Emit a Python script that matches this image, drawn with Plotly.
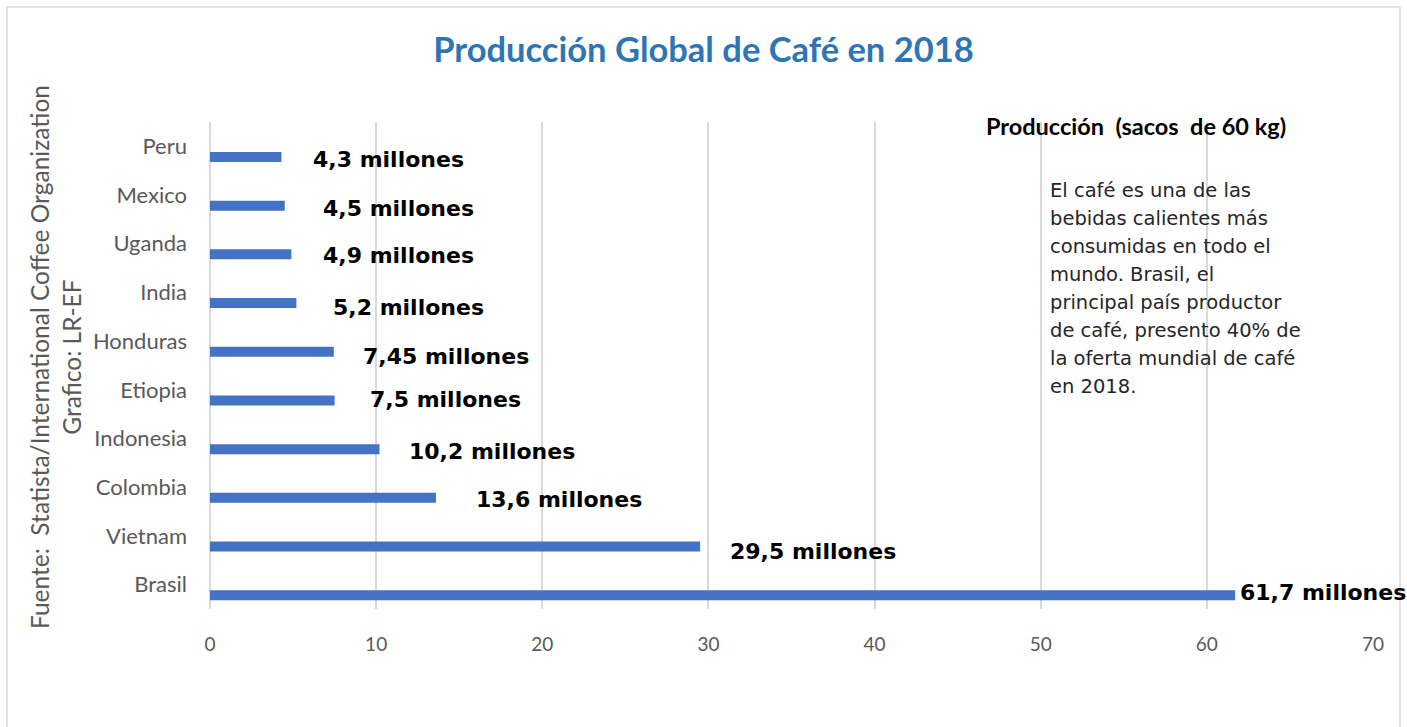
import plotly.graph_objects as go

# Data (bottom-to-top order, as in the chart)
countries = ["Brasil", "Vietnam", "Colombia", "Indonesia", "Etiopia",
             "Honduras", "India", "Uganda", "Mexico", "Peru"]
production = [61.7, 29.5, 13.6, 10.2, 7.5, 7.45, 5.2, 4.9, 4.5, 4.3]
value_labels = ["61,7 millones", "29,5 millones", "13,6 millones", "10,2 millones",
                "7,5 millones", "7,45 millones", "5,2 millones", "4,9 millones",
                "4,5 millones", "4,3 millones"]
x_ticks = [0, 10, 20, 30, 40, 50, 60, 70]

title_text = "Producción Global de Café en 2018"
legend_text = "Producción  (sacos  de 60 kg)"
note_lines = ["El café es una de las", "bebidas calientes más", "consumidas en todo el",
              "mundo. Brasil, el", "principal país productor", "de café, presento 40% de",
              "la oferta mundial de café", "en 2018."]
source_lines = ["Fuente:  Statista/International Coffee Organization", "Grafico: LR-EF"]

# Style: manual label placement (pixel shifts, as dragged in the original)
label_xshift = [3, 28, 38, 28, 33, 27, 35, 30, 36, 30]
label_yshift = [-8, -16, -12, -13, -10, -15, -15, -12, -13, -13]

W, H = 1407, 727
# plot area in page pixels: x 210..1373, y 122..609
ml, mt = 210, 122
mr = W - 1373
mb = H - 609
pw = W - ml - mr
ph = H - mt - mb


def px_x(page_px):
    return (page_px - ml) / pw


def px_y(page_py):
    return (H - mb - page_py) / ph


fig = go.Figure()
fig.add_trace(go.Bar(
    y=countries, x=production, orientation="h",
    marker=dict(color="#4472C4", line=dict(width=0)),
    offset=-0.32, width=0.205, hoverinfo="x+y",
))

for c, v, t, xs, ys in zip(countries, production, value_labels, label_xshift, label_yshift):
    fig.add_annotation(x=v, y=c, text=t, showarrow=False, xanchor="left", yanchor="middle",
                       xshift=xs, yshift=ys,
                       font=dict(family="DejaVu Sans", size=22, color="#000000", weight="bold"))

fig.add_annotation(xref="paper", yref="paper", x=px_x(984), y=px_y(126),
                   xanchor="left", yanchor="middle", showarrow=False, text=legend_text,
                   font=dict(family="Lato", size=23.5, color="#000000", weight="bold"))

for i, line in enumerate(note_lines):
    fig.add_annotation(xref="paper", yref="paper", x=px_x(1048), y=px_y(190 + 28 * i),
                       xanchor="left", yanchor="middle", align="left", showarrow=False,
                       text=line,
                       font=dict(family="DejaVu Sans", size=19.5, color="#262626"))

fig.add_annotation(xref="paper", yref="paper", x=px_x(55), y=px_y(357),
                   xanchor="center", yanchor="middle", showarrow=False, textangle=-90,
                   text="<br>".join(source_lines),
                   font=dict(family="Lato", size=24.5, color="#595959"))

fig.add_shape(type="rect", xref="paper", yref="paper",
              x0=px_x(7), x1=px_x(1400),
              y0=px_y(760), y1=px_y(7),
              line=dict(color="#D9D9D9", width=1.5), fillcolor="rgba(0,0,0,0)", layer="below")

fig.update_layout(
    width=W, height=H,
    margin=dict(l=ml, r=mr, t=mt, b=mb, autoexpand=False),
    paper_bgcolor="white", plot_bgcolor="white",
    showlegend=False,
    title=dict(text=title_text, x=703.5 / W, xref="container", xanchor="center",
               y=1 - 50 / H, yref="container", yanchor="middle",
               font=dict(family="Lato", size=34.5, color="#2E75B6", weight="bold")),
    xaxis=dict(range=[0, 70], tickvals=x_ticks, ticktext=[str(t) for t in x_ticks],
               showgrid=True, gridcolor="#D9D9D9", gridwidth=1.5,
               zeroline=True, zerolinecolor="#D9D9D9", zerolinewidth=1.5,
               showline=False, ticks="", ticklabelstandoff=22,
               tickfont=dict(family="Lato", size=19, color="#595959")),
    yaxis=dict(categoryorder="array", categoryarray=countries, range=[-0.5, 9.5],
               showgrid=False, zeroline=False, showline=False, ticks="",
               ticklabelstandoff=22,
               tickfont=dict(family="Lato", size=22, color="#595959")),
    font=dict(family="Lato"),
)

fig.write_html("out.html", config={"displayModeBar": False},
               post_script="document.body.style.margin='0px';document.body.style.overflow='hidden';")
